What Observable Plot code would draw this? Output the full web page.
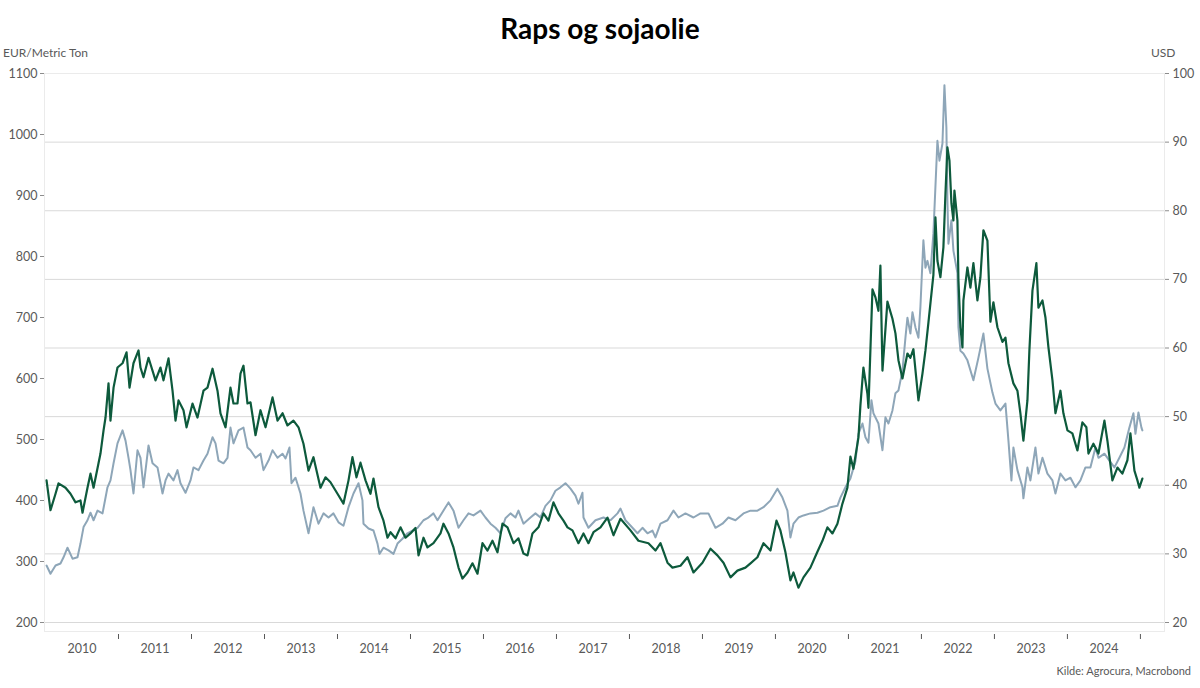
<!DOCTYPE html>
<html>
<head>
<meta charset="utf-8">
<script src="https://cdn.jsdelivr.net/npm/d3@7"></script>
<script src="https://cdn.jsdelivr.net/npm/@observablehq/plot@0.6"></script>
<style>
  body { margin: 0; background: #fff; font-family: Lato, "Open Sans", sans-serif; }
  #wrap { position: relative; width: 1200px; height: 688px; overflow: hidden; background: #fff; }
  #title { position: absolute; left: 0; top: 8px; width: 1200px; text-align: center; font-weight: 700; font-size: 28px; line-height: 40px; color: #000; z-index: 2; }
  .lab { position: absolute; font-size: 12px; color: #595959; z-index: 2; }
  #chart { position: absolute; left: 0; top: 40px; z-index: 1; }
  #chart svg { display: block; }
</style>
</head>
<body>
<div id="wrap">
  <div id="chart"></div>
  <div id="title">Raps og sojaolie</div>
  <div class="lab" style="left:3px; top:45px;">EUR/Metric Ton</div>
  <div class="lab" style="left:1151px; top:45px;">USD</div>
  <div class="lab" style="right:9px; top:664px; font-size:11px;">Kilde: Agrocura, Macrobond</div>
</div>
<script>
// Rapeseed (EUR / metric ton, left axis)
const rapsYear = [2010.014,2010.068,2010.137,2010.178,2010.274,2010.342,2010.411,2010.479,2010.507,2010.575,
2010.616,2010.658,2010.726,2010.753,2010.795,2010.822,2010.863,2010.890,2010.932,2010.986,
2011.055,2011.110,2011.151,2011.205,2011.274,2011.301,2011.342,2011.411,2011.507,2011.575,
2011.616,2011.685,2011.740,2011.781,2011.822,2011.890,2011.932,2012.014,2012.082,2012.164,
2012.219,2012.288,2012.356,2012.397,2012.466,2012.534,2012.575,2012.630,2012.671,2012.712,
2012.767,2012.808,2012.877,2012.945,2013.014,2013.110,2013.178,2013.247,2013.315,2013.397,
2013.466,2013.534,2013.603,2013.671,2013.767,2013.836,2013.904,2014.000,2014.082,2014.151,
2014.205,2014.260,2014.315,2014.384,2014.452,2014.493,2014.562,2014.630,2014.685,2014.726,
2014.795,2014.863,2014.932,2015.000,2015.068,2015.110,2015.178,2015.233,2015.315,2015.411,
2015.452,2015.521,2015.589,2015.658,2015.712,2015.781,2015.849,2015.918,2015.986,2016.055,
2016.123,2016.192,2016.260,2016.329,2016.411,2016.479,2016.548,2016.603,2016.671,2016.753,
2016.822,2016.890,2016.959,2017.027,2017.096,2017.151,2017.219,2017.301,2017.370,2017.438,
2017.507,2017.603,2017.699,2017.781,2017.877,2018.014,2018.123,2018.260,2018.356,2018.425,
2018.521,2018.589,2018.699,2018.795,2018.877,2019.000,2019.110,2019.205,2019.288,2019.384,
2019.479,2019.589,2019.658,2019.753,2019.836,2019.932,2020.014,2020.068,2020.137,2020.205,
2020.247,2020.315,2020.384,2020.479,2020.575,2020.644,2020.712,2020.781,2020.849,2020.918,
2020.986,2021.027,2021.068,2021.137,2021.164,2021.205,2021.260,2021.274,2021.329,2021.370,
2021.411,2021.438,2021.466,2021.534,2021.603,2021.644,2021.685,2021.740,2021.808,2021.849,
2021.890,2021.959,2022.014,2022.055,2022.096,2022.164,2022.192,2022.219,2022.260,2022.301,
2022.329,2022.356,2022.384,2022.411,2022.438,2022.452,2022.493,2022.507,2022.534,2022.562,
2022.575,2022.630,2022.671,2022.712,2022.767,2022.808,2022.849,2022.904,2022.945,2022.986,
2023.041,2023.110,2023.151,2023.192,2023.260,2023.315,2023.356,2023.397,2023.452,2023.479,
2023.521,2023.575,2023.603,2023.658,2023.699,2023.740,2023.795,2023.836,2023.904,2023.945,
2024.000,2024.068,2024.137,2024.205,2024.260,2024.288,2024.356,2024.425,2024.507,2024.548,
2024.616,2024.685,2024.753,2024.822,2024.863,2024.918,2024.959,2024.986,2025.027];
const rapsEur = [433,384,411,428,421,411,397,400,380,421,
444,421,461,477,515,536,592,531,585,618,
625,643,585,625,646,618,602,634,597,618,
597,633,580,531,564,548,520,559,536,580,
585,616,580,543,520,585,559,559,608,621,
559,561,507,548,520,569,531,543,523,531,
520,493,449,471,421,438,430,411,395,433,
471,438,462,433,411,436,389,367,339,348,
338,356,339,346,355,310,339,323,330,346,
362,346,323,290,272,282,297,280,330,318,
334,315,362,356,330,338,313,310,346,356,
379,367,397,379,367,356,351,330,346,330,
348,356,372,343,370,351,334,330,318,330,
298,290,293,307,282,298,321,310,298,274,
285,290,297,307,330,318,367,351,315,269,
282,257,274,290,316,334,356,346,362,395,
421,472,452,503,556,618,575,552,746,733,
711,785,613,726,698,674,630,600,641,634,
648,564,608,646,692,770,864,793,766,815,
903,979,957,887,859,908,859,761,684,651,
728,782,749,789,728,766,843,826,693,725,
684,660,667,625,592,580,543,498,564,646,
744,789,716,728,700,651,597,543,580,543,
515,510,482,528,520,477,493,477,531,498,
433,454,444,466,510,449,433,421,436];

// Soybean oil (USD, right axis)
const soyYear = [2010.014,2010.068,2010.137,2010.205,2010.247,2010.301,2010.370,2010.438,2010.479,2010.521,
2010.575,2010.616,2010.658,2010.712,2010.781,2010.849,2010.890,2010.932,2010.986,2011.055,
2011.096,2011.137,2011.164,2011.205,2011.260,2011.301,2011.342,2011.411,2011.466,2011.534,
2011.603,2011.644,2011.685,2011.753,2011.808,2011.849,2011.918,2011.986,2012.027,2012.096,
2012.164,2012.219,2012.288,2012.329,2012.370,2012.438,2012.493,2012.534,2012.575,2012.644,
2012.712,2012.767,2012.808,2012.877,2012.945,2012.986,2013.055,2013.110,2013.178,2013.247,
2013.288,2013.342,2013.370,2013.425,2013.493,2013.534,2013.603,2013.671,2013.740,2013.808,
2013.877,2013.945,2014.014,2014.082,2014.151,2014.219,2014.288,2014.342,2014.356,2014.425,
2014.493,2014.548,2014.575,2014.630,2014.699,2014.767,2014.822,2014.890,2014.959,2015.027,
2015.096,2015.178,2015.233,2015.315,2015.370,2015.521,2015.589,2015.658,2015.726,2015.795,
2015.863,2015.959,2016.027,2016.096,2016.164,2016.233,2016.301,2016.370,2016.438,2016.479,
2016.548,2016.644,2016.712,2016.781,2016.849,2016.918,2016.986,2017.055,2017.123,2017.192,
2017.260,2017.301,2017.356,2017.370,2017.438,2017.534,2017.644,2017.740,2017.836,2017.877,
2017.945,2018.041,2018.110,2018.178,2018.247,2018.315,2018.356,2018.425,2018.521,2018.603,
2018.671,2018.767,2018.877,2018.973,2019.082,2019.178,2019.274,2019.356,2019.452,2019.562,
2019.658,2019.753,2019.836,2019.932,2020.027,2020.096,2020.164,2020.205,2020.247,2020.315,
2020.384,2020.479,2020.575,2020.658,2020.753,2020.849,2020.890,2020.959,2021.027,2021.096,
2021.137,2021.192,2021.233,2021.274,2021.315,2021.342,2021.411,2021.466,2021.507,2021.548,
2021.603,2021.644,2021.685,2021.740,2021.781,2021.808,2021.849,2021.877,2021.918,2021.959,
2021.986,2022.027,2022.055,2022.082,2022.123,2022.164,2022.219,2022.247,2022.288,2022.315,
2022.342,2022.356,2022.370,2022.411,2022.438,2022.493,2022.507,2022.534,2022.575,2022.630,
2022.712,2022.781,2022.849,2022.904,2022.973,2023.014,2023.082,2023.151,2023.192,2023.233,
2023.260,2023.315,2023.384,2023.397,2023.452,2023.493,2023.562,2023.603,2023.658,2023.726,
2023.795,2023.836,2023.904,2023.973,2024.041,2024.110,2024.178,2024.247,2024.315,2024.384,
2024.425,2024.507,2024.575,2024.644,2024.712,2024.781,2024.849,2024.904,2024.932,2024.973,
2025.014,2025.027];
const soyUsd = [28.3,27.1,28.3,28.6,29.5,30.9,29.3,29.5,31.5,33.9,
34.9,36.0,34.9,36.3,35.9,39.7,40.7,43.2,46.1,48.0,
46.5,44.0,42.2,38.8,45.1,44.0,39.7,45.8,43.2,42.6,
38.8,40.7,41.7,40.7,42.2,40.3,38.9,40.7,42.6,42.2,
43.6,44.6,47.0,46.1,43.6,43.2,44.0,48.4,46.1,48.0,
48.4,45.5,45.1,44.0,44.6,42.2,43.6,45.1,44.0,44.6,
43.9,45.5,40.3,41.1,38.8,36.3,33.0,36.8,34.4,35.9,
35.3,35.9,34.6,34.1,36.8,38.8,40.3,37.8,34.4,33.7,
33.4,31.5,30.0,30.9,30.5,30.0,31.5,32.2,33.0,33.4,
33.8,34.9,35.2,35.9,34.9,37.5,36.3,33.8,34.9,35.9,
35.6,36.3,35.3,34.4,33.8,33.0,35.2,35.9,35.3,36.3,
34.4,35.3,35.9,35.3,37.0,37.8,39.2,39.7,40.3,39.5,
38.5,37.3,38.9,35.3,33.8,34.9,35.3,34.9,35.9,36.6,
34.9,33.8,33.0,33.8,33.0,33.4,32.4,34.4,34.9,36.3,
35.3,35.9,35.3,35.9,35.9,33.8,34.4,35.3,34.9,35.9,
36.3,36.3,36.8,37.8,39.5,38.2,36.3,32.4,34.4,35.3,
35.6,35.9,36.0,36.3,36.8,37.0,38.2,39.7,41.0,43.5,
47.5,49.0,47.0,46.2,52.4,50.5,49.0,45.1,49.9,49.0,
50.9,53.4,53.8,56.7,61.5,64.4,62.1,65.2,63.0,61.5,
66.0,75.7,71.7,72.7,70.9,76.7,90.2,87.3,89.8,98.3,
92.1,81.5,75.2,78.6,74.2,70.9,63.0,59.6,59.2,58.2,
55.3,58.6,62.1,57.0,53.5,51.9,50.9,51.9,46.5,40.7,
45.5,42.2,39.7,38.1,42.6,40.7,45.5,41.7,44.0,41.7,
40.7,38.8,41.7,40.7,41.1,39.7,40.7,42.6,42.6,45.5,
44.0,44.6,43.6,42.6,44.0,45.5,48.4,50.5,47.5,50.6,
48.4,48.0];

// Axis ticks
const eurTicks = [200,300,400,500,600,700,800,900,1000,1100];
const usdTicks = [20,30,40,50,60,70,80,90,100];
const yearBounds = [2011,2012,2013,2014,2015,2016,2017,2018,2019,2020,2021,2022,2023,2024,2025];
const yearLabels = [2010,2011,2012,2013,2014,2015,2016,2017,2018,2019,2020,2021,2022,2023,2024];

// Right axis (USD) is mapped onto the left (EUR) scale: 20 USD <-> 200 EUR, 100 USD <-> 1100 EUR
const usdToEur = u => 200 + (u - 20) * 900 / 80;
const eurToUsd = e => 20 + (e - 200) * 80 / 900;

const raps = rapsYear.map((t, i) => ({t, v: rapsEur[i]}));
const soy = soyYear.map((t, i) => ({t, v: usdToEur(soyUsd[i])}));

const chart = Plot.plot({
  width: 1200,
  height: 648,
  marginTop: 33,
  marginBottom: 57,
  marginLeft: 44,
  marginRight: 36,
  x: {domain: [2009.986, 2025.33], axis: null},
  y: {domain: [185.25, 1100], axis: null},
  style: {fontFamily: "Lato, 'Open Sans', sans-serif", fontSize: "12.5px", background: "transparent", overflow: "visible"},
  marks: [
    Plot.gridY(usdTicks.map(usdToEur), {stroke: "#d9d9d9", strokeOpacity: 1, strokeWidth: 1}),
    Plot.frame({stroke: "#ebebeb"}),
    Plot.axisY(eurTicks, {anchor: "left", tickSize: 4, tickPadding: 3, stroke: "#8c8c8c", fill: "#595959", label: null, tickFormat: d => String(d)}),
    Plot.axisY(usdTicks.map(usdToEur), {anchor: "right", tickSize: 4, tickPadding: 4, stroke: "#8c8c8c", fill: "#595959", label: null, tickFormat: d => String(Math.round(eurToUsd(d)))}),
    Plot.axisX(yearBounds, {anchor: "bottom", tickSize: 5, dy: 3, stroke: "#595959", tickFormat: () => "", label: null}),
    Plot.axisX(yearLabels.map(y => y + 0.5), {anchor: "bottom", tickSize: 0, tickPadding: 13, fill: "#595959", label: null, tickFormat: d => String(Math.floor(d))}),
    Plot.line(soy, {x: "t", y: "v", stroke: "#8ea6b8", strokeWidth: 2}),
    Plot.line(raps, {x: "t", y: "v", stroke: "#0d5a3c", strokeWidth: 2.2})
  ]
});
document.getElementById("chart").appendChild(chart);
</script>
</body>
</html>
